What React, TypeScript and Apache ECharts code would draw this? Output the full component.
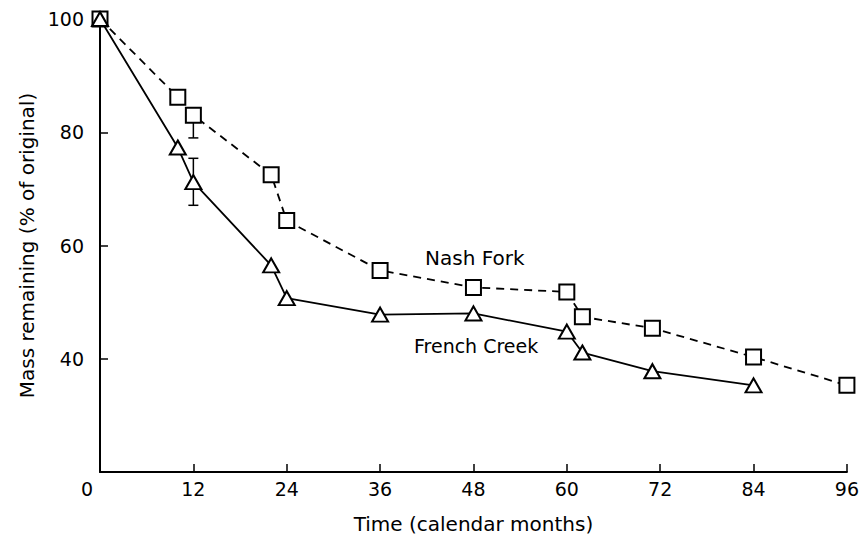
import React, { useEffect, useRef } from "react";
import * as echarts from "echarts";

const nashMonths = [0, 10, 12, 22, 24, 36, 48, 60, 62, 71, 84, 96];
const nashValues = [100, 86.2, 83.0, 72.5, 64.4, 55.6, 52.6, 51.8, 47.4, 45.4, 40.3, 35.3];
const frenchMonths = [0, 10, 12, 22, 24, 36, 48, 60, 62, 71, 84];
const frenchValues = [100, 77.3, 71.2, 56.5, 50.7, 47.8, 48.0, 44.8, 41.1, 37.8, 35.3];
// error bars: [month, low, high]
const nashErr = [[12, 79.0, 83.0]];
const frenchErr = [[12, 67.1, 75.4]];
const xTicks = [0, 12, 24, 36, 48, 60, 72, 84, 96];
const yTicks = [20, 40, 60, 80, 100];

const FONT = "DejaVu Sans";

export default function App() {
  const ref = useRef<HTMLDivElement>(null);
  useEffect(() => {
    if (!ref.current) return;
    const chart = echarts.init(ref.current, undefined, { renderer: "svg" });
    const errRender = (params: any, api: any) => {
      const x = api.value(0);
      const lo = api.coord([x, api.value(1)]);
      const hi = api.coord([x, api.value(2)]);
      const w = 5;
      const style = { stroke: "#000", lineWidth: 1.5 };
      return {
        type: "group",
        children: [
          { type: "line", shape: { x1: lo[0], y1: lo[1], x2: hi[0], y2: hi[1] }, style },
          { type: "line", shape: { x1: lo[0] - w, y1: lo[1], x2: lo[0] + w, y2: lo[1] }, style },
          { type: "line", shape: { x1: hi[0] - w, y1: hi[1], x2: hi[0] + w, y2: hi[1] }, style },
        ],
      };
    };
    chart.setOption({
      animation: false,
      backgroundColor: "#fff",
      grid: { left: 100, right: 14, top: 19, bottom: 67, containLabel: false },
      xAxis: {
        type: "value",
        min: xTicks[0],
        max: xTicks[xTicks.length - 1],
        interval: 12,
        name: "Time (calendar months)",
        nameLocation: "middle",
        nameGap: 42,
        nameTextStyle: { fontFamily: FONT, fontSize: 20, color: "#000" },
        axisLine: { show: true, lineStyle: { color: "#000", width: 2 } },
        axisTick: { show: true, inside: true, length: 8, lineStyle: { color: "#000", width: 1.5 } },
        axisLabel: {
          fontFamily: FONT,
          fontSize: 19,
          color: "#000",
          margin: 7,
          formatter: (v: number) => (v === 0 ? "{z|0}" : String(v)),
          rich: { z: { fontFamily: FONT, fontSize: 19, color: "#000", padding: [0, 26, 0, 0] } },
        },
        splitLine: { show: false },
      },
      yAxis: {
        type: "value",
        min: yTicks[0],
        max: yTicks[yTicks.length - 1],
        interval: 20,
        name: "Mass remaining (% of original)",
        nameLocation: "middle",
        nameGap: 63,
        nameTextStyle: { fontFamily: FONT, fontSize: 20, color: "#000" },
        axisLine: { show: true, lineStyle: { color: "#000", width: 2 } },
        axisTick: { show: true, inside: true, length: 8, lineStyle: { color: "#000", width: 1.5 } },
        axisLabel: {
          fontFamily: FONT,
          fontSize: 19,
          color: "#000",
          margin: 16,
          formatter: (v: number) => (v === 20 ? "" : String(v)),
        },
        splitLine: { show: false },
      },
      series: [
        {
          type: "custom",
          renderItem: errRender,
          data: nashErr,
          z: 1,
          silent: true,
        },
        {
          type: "custom",
          renderItem: errRender,
          data: frenchErr,
          z: 1,
          silent: true,
        },
        {
          name: "Nash Fork",
          type: "line",
          data: nashMonths.map((m, i) => [m, nashValues[i]]),
          symbol: "rect",
          symbolSize: 15,
          showAllSymbol: true,
          lineStyle: { color: "#000", width: 1.8, type: [8, 6] },
          itemStyle: { color: "#fff", borderColor: "#000", borderWidth: 2 },
          z: 3,
        },
        {
          name: "French Creek",
          type: "line",
          data: frenchMonths.map((m, i) => [m, frenchValues[i]]),
          symbol: "triangle",
          symbolSize: [16, 14],
          showAllSymbol: true,
          lineStyle: { color: "#000", width: 1.8 },
          itemStyle: { color: "#fff", borderColor: "#000", borderWidth: 2 },
          z: 3,
        },
      ],
      graphic: [
        {
          type: "text",
          x: 425,
          y: 258,
          style: { text: "Nash Fork", fontFamily: FONT, fontSize: 20, fill: "#000", verticalAlign: "middle" },
        },
        {
          type: "text",
          x: 414,
          y: 346,
          style: { text: "French Creek", fontFamily: FONT, fontSize: 19, fill: "#000", verticalAlign: "middle" },
        },
      ],
    });
    return () => chart.dispose();
  }, []);
  return <div ref={ref} style={{ width: 862, height: 539, position: "absolute", left: 0, top: 0 }} />;
}
